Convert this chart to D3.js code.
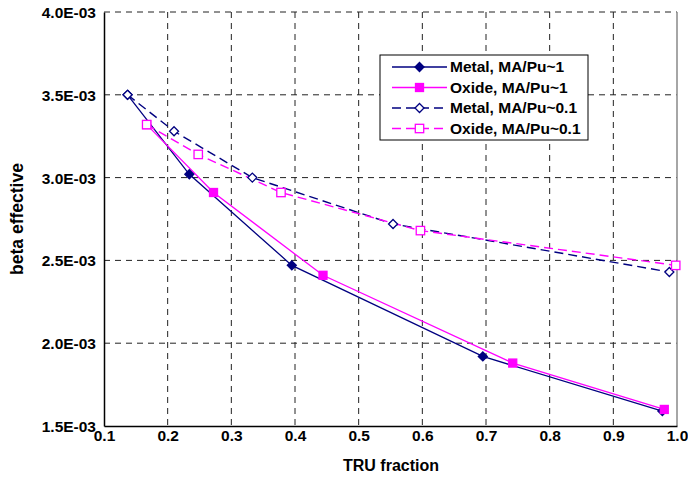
<!DOCTYPE html>
<html><head><meta charset="utf-8">
<script src="https://cdn.jsdelivr.net/npm/d3@7"></script>
<style>body{margin:0;background:#fff}svg text{font-family:"Liberation Sans",Arial,sans-serif;font-weight:bold}</style>
</head><body><svg id="c" width="688" height="480"></svg>
<script>
const xTicks = [0.1,0.2,0.3,0.4,0.5,0.6,0.7,0.8,0.9,1.0];
const yTicks = [0.0015,0.0020,0.0025,0.0030,0.0035,0.0040];
const yTickLabels = ["1.5E-03","2.0E-03","2.5E-03","3.0E-03","3.5E-03","4.0E-03"];
const metal1X = [0.137,0.234,0.395,0.695,0.977];
const metal1Y = [0.00350,0.00302,0.00247,0.00192,0.00159];
const oxide1X = [0.167,0.272,0.444,0.742,0.980];
const oxide1Y = [0.00332,0.00291,0.00241,0.00188,0.00160];
const metal01X = [0.137,0.210,0.333,0.554,0.988];
const metal01Y = [0.00350,0.00328,0.00300,0.00272,0.00243];
const oxide01X = [0.167,0.248,0.378,0.597,0.998];
const oxide01Y = [0.00332,0.00314,0.00291,0.00268,0.00247];
const seriesNames = ["Metal, MA/Pu~1","Oxide, MA/Pu~1","Metal, MA/Pu~0.1","Oxide, MA/Pu~0.1"];

const series = [
 {name:seriesNames[0], xs:metal1X, ys:metal1Y, color:"#000080", dash:null, marker:"diamond", filled:true},
 {name:seriesNames[1], xs:oxide1X, ys:oxide1Y, color:"#FF00FF", dash:null, marker:"square", filled:true},
 {name:seriesNames[2], xs:metal01X, ys:metal01Y, color:"#000080", dash:"9,5", marker:"diamond", filled:false},
 {name:seriesNames[3], xs:oxide01X, ys:oxide01Y, color:"#FF00FF", dash:"9,5", marker:"square", filled:false}
];

const L=104, R=677, T=12, B=426;
const FS=15.5;
const x = d3.scaleLinear().domain([0.1,1.0]).range([L,R]);
const y = d3.scaleLinear().domain([0.0015,0.0040]).range([B,T]);
const svg = d3.select("#c");

// gridlines
const g = svg.append("g");
g.selectAll("line.v").data(xTicks.slice(1,-1)).enter().append("line")
 .attr("x1",d=>x(d)).attr("x2",d=>x(d)).attr("y1",T).attr("y2",B)
 .attr("stroke","#222").attr("stroke-width",1).attr("stroke-dasharray","6,5");
g.selectAll("line.h").data(yTicks.slice(1)).enter().append("line")
 .attr("x1",L).attr("x2",R).attr("y1",d=>y(d)).attr("y2",d=>y(d))
 .attr("stroke","#222").attr("stroke-width",1).attr("stroke-dasharray","6,5");
// right border
svg.append("line").attr("x1",R).attr("x2",R).attr("y1",T).attr("y2",B).attr("stroke","#888").attr("stroke-width",1.5);

// axes
const xAxis = d3.axisBottom(x).tickValues(xTicks).tickFormat(d3.format(".1f")).tickSize(0).tickPadding(4);
const yAxis = d3.axisLeft(y).tickValues(yTicks).tickFormat((d,i)=>yTickLabels[i]).tickSize(0).tickPadding(8);
const xa = svg.append("g").attr("transform",`translate(0,${B})`).call(xAxis);
const ya = svg.append("g").attr("transform",`translate(${L},0)`).call(yAxis);
[xa,ya].forEach(a=>{a.select(".domain").attr("stroke","#000").attr("stroke-width",1.5);
 a.selectAll("text").attr("font-size",FS).attr("font-weight","bold").attr("fill","#000").attr("font-family","Liberation Sans, Arial, sans-serif");});
ya.selectAll("text").attr("dy","0.35em");

// titles
svg.append("text").attr("x",391).attr("y",471).attr("text-anchor","middle").attr("font-size",16).text("TRU fraction");
svg.append("text").attr("transform",`translate(23,219) rotate(-90)`).attr("text-anchor","middle").attr("font-size",17.5).text("beta effective");

function drawMarker(sel, s, cx, cy){
 if(s.marker==="diamond"){
  const r = 4.5;
  sel.append("path").attr("d",`M${cx},${cy-r}L${cx+r},${cy}L${cx},${cy+r}L${cx-r},${cy}Z`)
   .attr("fill",s.filled?s.color:"#fff").attr("stroke",s.color).attr("stroke-width",1.3);
 } else {
  const h = s.filled?4:4.2;
  sel.append("rect").attr("x",cx-h).attr("y",cy-h).attr("width",2*h).attr("height",2*h)
   .attr("fill",s.filled?s.color:"#fff").attr("stroke",s.color).attr("stroke-width",1.3);
 }
}

const line = d3.line().x(d=>x(d[0])).y(d=>y(d[1]));
series.forEach(s=>{
 const pts = s.xs.map((v,i)=>[v,s.ys[i]]);
 svg.append("path").datum(pts).attr("d",line).attr("fill","none").attr("stroke",s.color)
  .attr("stroke-width",s.dash?1.4:1.3).attr("stroke-dasharray",s.dash);
});
series.forEach(s=>{
 const gm = svg.append("g");
 s.xs.forEach((v,i)=>drawMarker(gm,s,x(v),y(s.ys[i])));
});

// legend
const lg = svg.append("g");
lg.append("rect").attr("x",380).attr("y",55).attr("width",208).attr("height",85).attr("fill","#fff").attr("stroke","#000").attr("stroke-width",1);
series.forEach((s,i)=>{
 const yy = 67+i*20.5;
 lg.append("line").attr("x1",392).attr("x2",447).attr("y1",yy).attr("y2",yy).attr("stroke",s.color)
  .attr("stroke-width",s.dash?1.4:1.3).attr("stroke-dasharray",s.dash);
 drawMarker(lg,s,419.5,yy);
 lg.append("text").attr("x",450).attr("y",yy).attr("dy","0.35em").attr("font-size",15.5).text(s.name);
});
</script></body></html>
